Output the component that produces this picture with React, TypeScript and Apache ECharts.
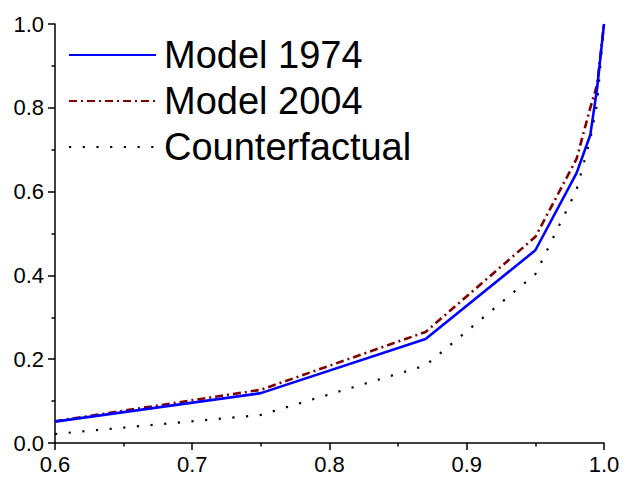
import React, { useEffect, useRef } from "react";
import * as echarts from "echarts";

// Cumulative population share (x) and cumulative share (y)
const shares = [0.6, 0.75, 0.87, 0.95, 0.98, 0.99, 0.995, 1.0];
const model1974 = [0.051, 0.119, 0.248, 0.46, 0.644, 0.735, 0.847, 1.0];
const model2004 = [0.052, 0.127, 0.265, 0.492, 0.678, 0.8, 0.855, 1.0];
const counterfactual = [0.0215, 0.067, 0.185, 0.403, 0.604, 0.725, 0.81, 1.0];

const seriesNames = ["Model 1974", "Model 2004", "Counterfactual"];

const FONT = "'Liberation Sans', Arial, sans-serif";

const pairs = (ys: number[]) => shares.map((x, i) => [x, ys[i]]);

export default function App() {
  const ref = useRef<HTMLDivElement>(null);

  useEffect(() => {
    if (!ref.current) return;
    const chart = echarts.init(ref.current, undefined, { renderer: "svg" });
    const axisCommon = {
      type: "value" as const,
      interval: 0.1,
      axisLine: { show: true, lineStyle: { color: "#000", width: 1.5 } },
      axisTick: { show: true, inside: false, length: 7, lineStyle: { color: "#000", width: 1.5 } },
      minorTick: { show: true, splitNumber: 2, length: 3.5, lineStyle: { color: "#000", width: 1.5 } },
      splitLine: { show: false },
      axisLabel: {
        color: "#000",
        fontSize: 22,
        fontFamily: FONT,
        formatter: (v: number) => v.toFixed(1),
      },
    };
    chart.setOption({
      animation: false,
      backgroundColor: "#fff",
      grid: { left: 55, right: 23, top: 24, bottom: 36, containLabel: false },
      xAxis: {
        ...axisCommon,
        min: 0.6,
        max: 1.0,
        axisLabel: { ...axisCommon.axisLabel, margin: 10 },
      },
      yAxis: {
        ...axisCommon,
        min: 0,
        max: 1.0,
        interval: 0.2,
        axisLabel: { ...axisCommon.axisLabel, margin: 11 },
      },
      legend: {
        orient: "vertical",
        left: 63,
        top: 30,
        itemWidth: 87,
        itemHeight: 14,
        itemGap: 6,
        data: seriesNames,
        itemStyle: { opacity: 0 },
        textStyle: {
          color: "#000",
          fontSize: 38,
          lineHeight: 40,
          fontFamily: FONT,
          padding: [0, 0, 0, 3],
        },
      },
      series: [
        {
          name: seriesNames[0],
          type: "line",
          data: pairs(model1974),
          symbol: "none",
          lineStyle: { color: "#0000ff", width: 2.6, type: "solid" },
          itemStyle: { color: "#0000ff" },
          z: 3,
        },
        {
          name: seriesNames[1],
          type: "line",
          data: pairs(model2004),
          symbol: "none",
          lineStyle: { color: "#800000", width: 2.6, type: [8, 4, 2, 4] },
          itemStyle: { color: "#800000" },
          z: 2,
        },
        {
          name: seriesNames[2],
          type: "line",
          data: pairs(counterfactual),
          symbol: "none",
          lineStyle: { color: "#000", width: 2.2, type: [2.2, 11.5] },
          itemStyle: { color: "#000" },
          z: 1,
        },
      ],
    });
    return () => chart.dispose();
  }, []);

  return <div ref={ref} style={{ width: 627, height: 479, position: "absolute", left: 0, top: 0 }} />;
}
